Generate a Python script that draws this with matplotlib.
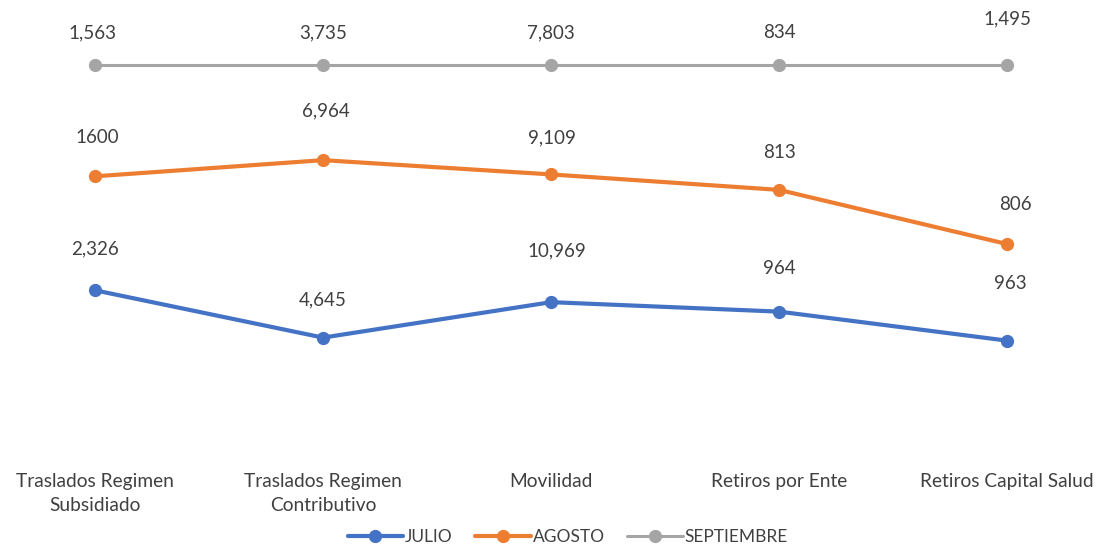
import numpy as np
import matplotlib
matplotlib.use("Agg")
import matplotlib.pyplot as plt

categories = ["Traslados Regimen\nSubsidiado", "Traslados Regimen\nContributivo",
              "Movilidad", "Retiros por Ente", "Retiros Capital Salud"]
series_names = ["JULIO", "AGOSTO", "SEPTIEMBRE"]
julio = [2326, 4645, 10969, 964, 963]
agosto = [1600, 6964, 9109, 813, 806]
septiembre = [1563, 3735, 7803, 834, 1495]
colors = ["#4472C4", "#ED7D31", "#A5A5A5"]
linewidths = [3.0, 3.0, 2.2]

# per-label offsets in pixels (dx, dy) relative to point
label_offsets = [
    [(0, 41), (0, 38), (6, 51), (0, 43), (3, 57)],
    [(2, 39), (3, 49), (1, 37), (0, 37), (8, 40)],
    [(-3, 32), (0, 32), (0, 32), (0, 32), (0, 46)],
]

plt.rcParams['font.family'] = ['Lato', 'DejaVu Sans']
text_color = "#404040"

fig = plt.figure(figsize=(10.96, 5.47), dpi=100)
ax = fig.add_axes([0, 0.1664, 1, 0.7148])

data = np.array([julio, agosto, septiembre], dtype=float)
totals = data.sum(axis=0)
cum = np.cumsum(data, axis=0) / totals
x = np.arange(len(categories))

for i, name in enumerate(series_names):
    ax.plot(x, cum[i], color=colors[i], lw=linewidths[i], marker='o',
            markersize=8.5, label=name, solid_capstyle='round', zorder=3, clip_on=False)
    for j in range(len(x)):
        v = int(data[i, j])
        txt = f"{v:,}"
        if i == 1 and j == 0:
            txt = "1600"
        dx, dy = label_offsets[i][j]
        ax.annotate(txt, (x[j], cum[i, j]), xytext=(dx, dy), textcoords='offset pixels',
                    ha='center', va='center', fontsize=13.5, color=text_color)

ax.set_xlim(-0.4167, 4.390)
ax.set_ylim(0, 1)
ax.set_xticks(x)
ax.set_xticklabels(categories, fontsize=13.8, color=text_color, linespacing=1.55)
ax.tick_params(axis='x', length=0, pad=12)
ax.set_yticks([])
for s in ax.spines.values():
    s.set_visible(False)

leg = fig.legend(loc='center', bbox_to_anchor=(0.518, 0.018), ncol=3, frameon=False,
                 fontsize=12.5, handlelength=3.2, columnspacing=1.3, handletextpad=0.1,
                 labelcolor=text_color)

fig.savefig("out.png", dpi=100)
